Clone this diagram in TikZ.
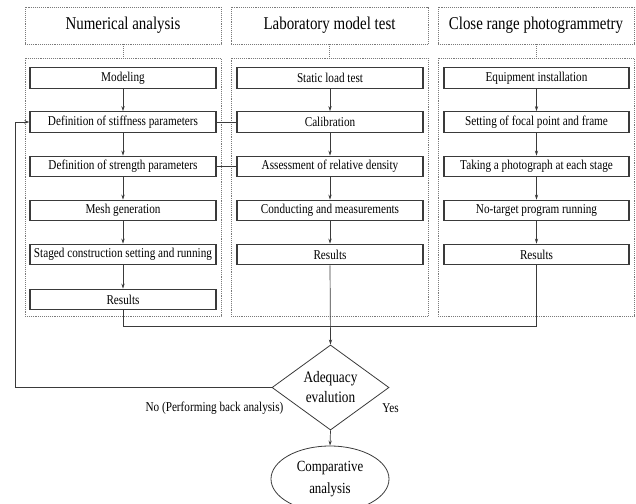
\documentclass[tikz,border=0pt]{standalone}
\usepackage{fontspec}
\setmainfont{Liberation Serif}[FakeStretch=0.83]
\usetikzlibrary{shapes.geometric,arrows.meta}
\definecolor{linec}{HTML}{3A3A3A}
\definecolor{dotc}{HTML}{7A7A7A}
\tikzset{
  hdr/.style={draw=dotc, densely dotted, line width=0.9pt, minimum width=196pt, minimum height=37pt, inner sep=0pt, font=\fontsize{18}{20}\selectfont},
  grp/.style={draw=dotc, densely dotted, line width=0.9pt, minimum width=196pt, minimum height=258pt, inner sep=0pt},
  ibox/.style={draw=linec, line width=1.2pt, minimum width=186pt, minimum height=20.5pt, inner sep=0pt, font=\fontsize{13.5}{15}\selectfont},
  conn/.style={draw=linec, line width=0.7pt},
  arr/.style={conn, -{Stealth[length=5pt,width=3.2pt]}},
  dconn/.style={draw=dotc, densely dotted, line width=0.9pt},
  lbl/.style={inner sep=0pt, font=\fontsize{13.5}{15}\selectfont},
}
\begin{document}
\begin{tikzpicture}[x=1pt,y=-1pt]
\useasboundingbox (0,0) rectangle (636,503);
\clip (0,0) rectangle (636,503);
% headers
\node[hdr] (h1) at (123,25.5) {Numerical analysis};
\node[hdr, minimum width=197pt] (h2) at (329.5,25.5) {Laboratory model test};
\node[hdr] (h3) at (536,25.5) {Close range photogrammetry};
% groups
\node[grp] (g1) at (123,187) {};
\node[grp, minimum width=197pt] (g2) at (329.5,187) {};
\node[grp] (g3) at (536,187) {};
\draw[dconn] (h1.south) -- (g1.north);
\draw[dconn] (h2.south) -- (g2.north);
\draw[dconn] (h3.south) -- (g3.north);
% left column
\node[ibox] (a1) at (123,78) {Modeling};
\node[ibox] (a2) at (123,122) {Definition of stiffness parameters};
\node[ibox] (a3) at (123,166.5) {Definition of strength parameters};
\node[ibox] (a4) at (123,210.5) {Mesh generation};
\node[ibox] (a5) at (123,254.5) {Staged construction setting and running};
\node[ibox] (a6) at (123,299.5) {Results};
% middle column
\node[ibox] (b1) at (330,78) {Static load test};
\node[ibox] (b2) at (330,122) {Calibration};
\node[ibox] (b3) at (330,166.5) {Assessment of relative density};
\node[ibox] (b4) at (330,210.5) {Conducting and measurements};
\node[ibox] (b5) at (330,254.5) {Results};
% right column
\node[ibox, minimum width=185pt] (c1) at (536.5,78) {Equipment installation};
\node[ibox, minimum width=185pt] (c2) at (536.5,122) {Setting of focal point and frame};
\node[ibox, minimum width=185pt] (c3) at (536.5,166.5) {Taking a photograph at each stage};
\node[ibox, minimum width=185pt] (c4) at (536.5,210.5) {No-target program running};
\node[ibox, minimum width=185pt] (c5) at (536.5,254.5) {Results};
% arrows within columns
\foreach \u/\v in {a1/a2,a2/a3,a3/a4,a4/a5,a5/a6,b1/b2,b2/b3,b3/b4,b4/b5,c1/c2,c2/c3,c3/c4,c4/c5}
  \draw[arr] (\u.south) -- (\v.north);
% cross links
\draw[conn] (a2.east) -- (b2.west);
\draw[conn] (a3.east) -- (b3.west);
% decision
\node[draw=linec, line width=0.8pt, diamond, minimum width=117pt, minimum height=75pt, inner sep=0pt, align=center, font=\fontsize{16}{20}\selectfont] (d) at (330.5,387.5) {Adequacy\\evalution};
\node[draw=linec, line width=0.8pt, ellipse, minimum width=118pt, minimum height=66pt, inner sep=0pt, align=center, font=\fontsize{15.5}{22}\selectfont] (e) at (330,479) {Comparative\\analysis};
% results merge
\coordinate (m1) at (123,326);
\coordinate (m3) at (536.5,326);
\draw[conn] (a6.south) -- (m1) -- (m3) -- (c5.south);
\draw[arr] (b5.south) -- (d.north);
% feedback
\coordinate (f1) at (15,387.5);
\coordinate (f2) at (15,122);
\draw[arr] (d.west) -- (f1) -- (f2) -- (a2.west);
\draw[arr] (d.south) -- (e.north);
% labels
\node[lbl] (no) at (214.5,408) {No (Performing back analysis)};
\node[lbl] (yes) at (390.5,408) {Yes};
\end{tikzpicture}
\end{document}
